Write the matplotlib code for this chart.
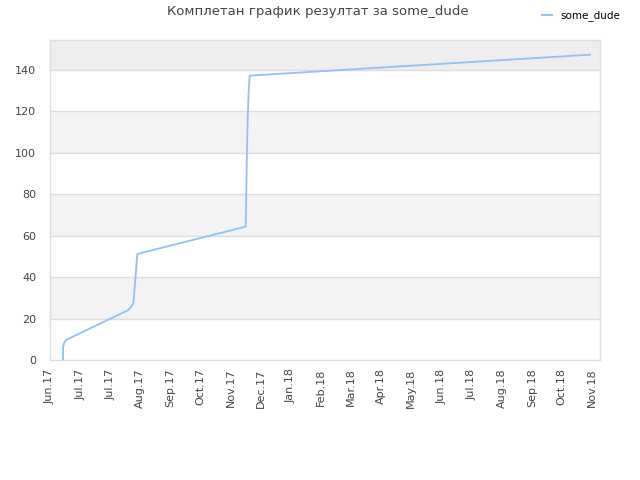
import matplotlib
matplotlib.use("Agg")
import matplotlib.pyplot as plt
import matplotlib.dates as mdates
from matplotlib.lines import Line2D
import datetime as dt

# data
dates = ["2017-06-14", "2017-06-14", "2017-06-15", "2017-06-17", "2017-08-18",
         "2017-08-21", "2017-08-23", "2017-08-25", "2017-08-27", "2017-12-13",
         "2017-12-14", "2017-12-15", "2017-12-16", "2017-12-17", "2018-11-21"]
values = [0, 6.1, 8.2, 9.7, 24.1, 25.8, 27.4, 38.6, 51.2, 64.4,
          94.2, 116.7, 130.4, 137.3, 147.4]
tick_labels = ["Jun.17", "Jul.17", "Jul.17", "Aug.17", "Sep.17", "Oct.17", "Nov.17",
               "Dec.17", "Jan.18", "Feb.18", "Mar.18", "Apr.18", "May.18", "Jun.18",
               "Jul.18", "Aug.18", "Sep.18", "Oct.18", "Nov.18"]
y_ticks = [0, 20, 40, 60, 80, 100, 120, 140]
series_name = "some_dude"
title = "Комплетан график резултат за some_dude"

x = [dt.datetime.strptime(d, "%Y-%m-%d") for d in dates]
start = dt.datetime(2017, 6, 1)
tick_pos = [start + dt.timedelta(days=30 * i) for i in range(len(tick_labels))]

fig = plt.figure(figsize=(6.4, 4.8), dpi=100)
ax = fig.add_axes([50 / 640, 1 - 360 / 480, 550 / 640, 320 / 480])

ymax = 154.5
# alternating bands
bands = y_ticks + [ymax]
for i in range(len(bands) - 1):
    lo, hi = bands[i], bands[i + 1]
    if i == len(bands) - 2:
        ax.axhspan(lo, hi, color="#eeeeee", zorder=0, lw=0)
    elif i % 2 == 1:
        ax.axhspan(lo, hi, color="#f3f3f3", zorder=0, lw=0)
for yv in y_ticks[1:]:
    ax.axhline(yv, color="#dddddd", lw=1, zorder=1)

ax.plot(x, values, color="#92c1f2", lw=1.3, zorder=3)

ax.set_xlim(start, start + dt.timedelta(days=548))
ax.set_ylim(0, ymax)
ax.set_yticks(y_ticks)
ax.set_yticklabels([str(v) for v in y_ticks])
ax.set_xticks(tick_pos)
ax.set_xticklabels(tick_labels, rotation=90)
ax.tick_params(axis="both", length=0, labelsize=8, labelcolor="#444444")
ax.tick_params(axis="y", pad=10)
ax.tick_params(axis="x", pad=6)
for s in ax.spines.values():
    s.set_color("#dddddd")
    s.set_linewidth(1)

fig.text(318 / 640, 1 - 12 / 480, title, ha="center", va="center",
         fontsize=9.5, color="#444444")
fig.legend(handles=[Line2D([0], [0], color="#92c1f2", lw=1.5)], labels=[series_name],
           loc="center right", bbox_to_anchor=(630 / 640, 1 - 16 / 480),
           frameon=False, fontsize=7.5, handlelength=1.0, handletextpad=0.8)

fig.savefig("out.png", dpi=100)
